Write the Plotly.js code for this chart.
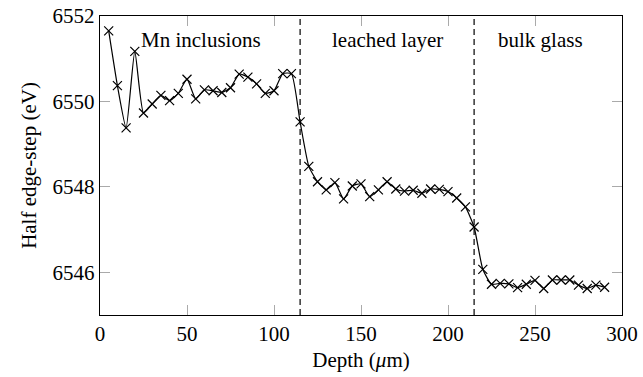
<!DOCTYPE html>
<html>
<head>
<meta charset="utf-8">
<script src="https://cdn.plot.ly/plotly-3.0.1.min.js"></script>
<style>html,body{margin:0;padding:0;background:#fff;}#chart{width:643px;height:377px;}</style>
</head>
<body>
<div id="chart"></div>
<script>
const depth = [5,10,15,20,25,30,35,40,45,50,55,60,65,70,75,80,85,90,95,100,105,110,115,120,125,130,135,140,145,150,155,160,165,170,175,180,185,190,195,200,205,210,215,220,225,230,235,240,245,250,255,260,265,270,275,280,285,290];
const halfEdge = [6551.65,6550.37,6549.38,6551.17,6549.73,6549.94,6550.14,6550.02,6550.19,6550.52,6550.06,6550.27,6550.25,6550.21,6550.32,6550.64,6550.57,6550.41,6550.19,6550.25,6550.65,6550.65,6549.52,6548.48,6548.12,6547.93,6548.10,6547.72,6548.02,6548.07,6547.77,6547.93,6548.12,6547.95,6547.90,6547.92,6547.85,6547.95,6547.94,6547.89,6547.74,6547.53,6547.06,6546.07,6545.72,6545.74,6545.73,6545.64,6545.72,6545.81,6545.62,6545.82,6545.82,6545.82,6545.70,6545.62,6545.70,6545.65];
const boundaries = [115, 215];
const regionLabels = ["Mn inclusions", "leached layer", "bulk glass"];
const regionLabelX = [58, 165, 253];
const xTicks = [0,50,100,150,200,250,300];
const yTicks = [6546,6548,6550,6552];

const FAMILY = "Liberation Serif";
function mkFont(size) { return {family: FAMILY, size: size, color: "#000"}; }

const trace = {
  x: depth, y: halfEdge, type: "scatter", mode: "lines+markers",
  line: {color: "#000", width: 1.2, shape: "spline", smoothing: 0.5},
  marker: {symbol: "x-thin", size: 9, color: "#000", line: {color: "#000", width: 1.2}},
  hoverinfo: "skip"
};

const shapes = boundaries.map(b => ({
  type: "line", xref: "x", yref: "paper", x0: b, x1: b, y0: 0, y1: 1,
  line: {color: "#000", width: 1.2, dash: "6px,4px"}
}));

const annotations = regionLabels.map((t, i) => ({
  text: t, x: regionLabelX[i], xref: "x", y: 0.92, yref: "paper",
  yanchor: "middle", xanchor: "center", showarrow: false, font: mkFont(21)
}));

const layout = {
  width: 643, height: 377,
  margin: {l: 100, r: 21, t: 16, b: 62},
  paper_bgcolor: "#fff", plot_bgcolor: "#fff",
  showlegend: false,
  font: mkFont(21),
  xaxis: {
    range: [0, 300], tickvals: xTicks, ticktext: xTicks.map(String),
    ticks: "inside", ticklen: 10, tickcolor: "#aaa", tickwidth: 1,
    showline: true, linecolor: "#000", linewidth: 1.2, mirror: "ticks",
    showgrid: false, zeroline: false, tickfont: mkFont(21),
    title: {text: "Depth (<i>μ</i>m)", font: mkFont(21), standoff: 6}
  },
  yaxis: {
    range: [6545, 6552], tickvals: yTicks, ticktext: yTicks.map(String),
    ticks: "inside", ticklen: 10, tickcolor: "#aaa", tickwidth: 1,
    showline: true, linecolor: "#000", linewidth: 1.2, mirror: "ticks",
    showgrid: false, zeroline: false, tickfont: mkFont(21),
    title: {text: "Half edge-step (eV)", font: mkFont(21), standoff: 10}
  },
  shapes: shapes,
  annotations: annotations
};

Plotly.newPlot("chart", [trace], layout, {displayModeBar: false, staticPlot: true});
</script>
</body>
</html>
